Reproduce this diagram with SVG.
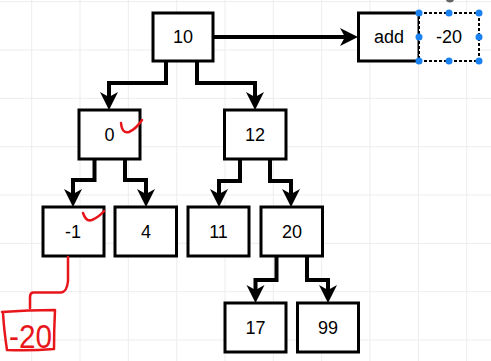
<svg xmlns="http://www.w3.org/2000/svg" width="491" height="361" viewBox="0 0 491 361">
<style>
.box{fill:#fff;stroke:#000;stroke-width:3}
.lbl{font-family:"Liberation Sans",Arial,sans-serif;font-size:18px;text-anchor:middle;fill:#000}
.con{fill:none;stroke:#000;stroke-width:4;stroke-linejoin:miter}
.grid{stroke:#ededed;stroke-width:1}
.red{fill:none;stroke:#e8161b;stroke-width:2.5;stroke-linecap:round;stroke-linejoin:round}
.h{fill:#1a82f0}
</style>
<defs>
<marker id="arr" markerUnits="userSpaceOnUse" markerWidth="19" markerHeight="19" viewBox="0 -9.5 19 19" refX="5" refY="0" orient="auto" overflow="visible">
<path d="M0,-9 L18,0 L0,9 L5,0 Z" fill="#000"/>
</marker>
</defs>
<rect width="491" height="361" fill="#fff"/>
<g id="grid">
<path class="grid" d="M31.7,0V361M80,0V361M128.3,0V361M176.7,0V361M225,0V361M273.3,0V361M321.7,0V361M370,0V361M418.3,0V361M466.7,0V361M0,1.7H491M0,50H491M0,98.3H491M0,146.7H491M0,195H491M0,243.3H491M0,291.7H491M0,340H491"/>
</g>
<g id="connectors">
<path class="con" d="M213,37H345" marker-end="url(#arr)"/>
<path class="con" d="M166,61V83H109V97" marker-end="url(#arr)"/>
<path class="con" d="M197,61V83H255V97" marker-end="url(#arr)"/>
<path class="con" d="M94.5,159V180H73V194" marker-end="url(#arr)"/>
<path class="con" d="M125,159V180H146V194" marker-end="url(#arr)"/>
<path class="con" d="M240,159V181H219V194" marker-end="url(#arr)"/>
<path class="con" d="M270,159V181H291V194" marker-end="url(#arr)"/>
<path class="con" d="M276.5,256V280H255.5V290" marker-end="url(#arr)"/>
<path class="con" d="M307,256V280H328V290" marker-end="url(#arr)"/>
</g>
<g id="n10"><rect class="box" x="153" y="13" width="60" height="48"/><text class="lbl" x="183" y="43">10</text></g>
<g id="nadd"><rect class="box" x="358.5" y="13" width="60.5" height="48"/><text class="lbl" x="389" y="43">add</text></g>
<g id="nm20">
<rect x="419" y="13" width="60" height="48" fill="#fff" stroke="#000" stroke-width="2" stroke-dasharray="3,2"/>
<text class="lbl" x="449" y="43">-20</text>
<circle class="h" cx="419" cy="13" r="3.5"/><circle class="h" cx="449" cy="13" r="3.5"/><circle class="h" cx="479" cy="13" r="3.5"/>
<circle class="h" cx="419" cy="37" r="3.5"/><circle class="h" cx="479" cy="37" r="3.5"/>
<circle class="h" cx="419" cy="61" r="3.5"/><circle class="h" cx="449" cy="61" r="3.5"/><circle class="h" cx="479" cy="61" r="3.5"/>
<circle cx="450" cy="-2" r="4.5" fill="#666"/>
</g>
<g id="n0"><rect class="box" x="79" y="110" width="61" height="49"/><text class="lbl" x="109.5" y="141">0</text></g>
<g id="n12"><rect class="box" x="224.5" y="110" width="61.5" height="49"/><text class="lbl" x="255" y="141">12</text></g>
<g id="nm1"><rect class="box" x="43" y="207" width="61" height="49"/><text class="lbl" x="73" y="238">-1</text></g>
<g id="n4"><rect class="box" x="115" y="207" width="61.5" height="49"/><text class="lbl" x="146" y="238">4</text></g>
<g id="n11"><rect class="box" x="188" y="207" width="61" height="49"/><text class="lbl" x="218.5" y="238">11</text></g>
<g id="n20"><rect class="box" x="261" y="207" width="61.5" height="49"/><text class="lbl" x="292" y="238">20</text></g>
<g id="n17"><rect class="box" x="225" y="303" width="61" height="49"/><text class="lbl" x="255.5" y="334">17</text></g>
<g id="n99"><rect class="box" x="297.5" y="303" width="61" height="49"/><text class="lbl" x="328" y="334">99</text></g>
<g id="annotations">
<path class="red" d="M121,123 Q122,134 129,132 Q136,129 142,120"/>
<path class="red" d="M83,213 Q86,222 92,220 Q99,217 104,211"/>
<path class="red" d="M68,257 V281 Q67,292 61,292.5 H33 Q30,293 30,297 V308"/>
<path class="red" d="M2,312 Q28,310 55,310 Q54,330 54,349 Q30,351 7,350 Q4,330 3,313"/>
<text x="9" y="348" font-family="Liberation Sans,Arial,sans-serif" font-size="33" fill="#e8161b" textLength="43" lengthAdjust="spacingAndGlyphs">-20</text>
</g>
</svg>
